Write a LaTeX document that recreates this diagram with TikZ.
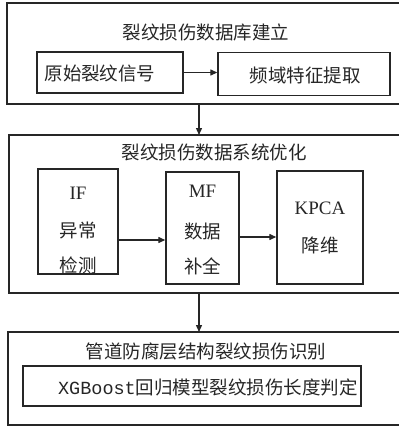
\documentclass[tikz,border=0pt]{standalone}
\usepackage{fontspec}
\setmainfont{Liberation Serif}
\newfontfamily\cjk{Noto Sans CJK SC}
\newfontfamily\lmono{Liberation Mono}
\usetikzlibrary{arrows.meta}
\begin{document}
\begin{tikzpicture}[x=1pt,y=-1pt,
  box/.style={draw=black!85,line width=1.4pt},
  lbl/.style={font=\cjk\fontsize{18.5}{22}\selectfont,inner sep=0pt,text=black!85},
  lat/.style={font=\fontsize{19}{22}\selectfont,inner sep=0pt,text=black!85},
  arr/.style={draw=black!85,line width=1.3pt,-{Triangle[length=7pt,width=6pt]}}]
\useasboundingbox (0,0) rectangle (399,426);
% stage 1
\draw[box] (7,3) rectangle (404,104);
\coordinate (o1b) at (199,104);
\node[lbl] (t1) at (206,32) {裂纹损伤数据库建立};
\node[box,minimum width=146pt,minimum height=41pt,inner sep=0pt] (a) at (110,72.5) {};
\node[lbl] (at) at (100,73) {原始裂纹信号};
\node[box,minimum width=172pt,minimum height=43pt,inner sep=0pt] (b) at (304,74) {};
\node[lbl] (bt) at (305,75) {频域特征提取};
\draw[arr] (a.east) -- (b.west |- a.east);
% stage 2
\draw[box] (9,135) rectangle (404,293);
\coordinate (o2t) at (199,135);
\coordinate (o2b) at (199,293);
\draw[arr] (o1b) -- (o2t);
\node[lbl] (t2) at (214,152) {裂纹损伤数据系统优化};
\node[box,minimum width=80pt,minimum height=105pt,inner sep=0pt] (c) at (78,221.5) {};
\node[box,minimum width=73pt,minimum height=112pt,inner sep=0pt] (d) at (202.5,228) {};
\node[box,minimum width=86pt,minimum height=113pt,inner sep=0pt] (e) at (320,227.5) {};
\node[lat] (c1) at (78,193) {IF};
\node[lbl] (c2) at (78,230) {异常};
\node[lbl] (c3) at (78,265) {检测};
\node[lat] (d1) at (202.5,191) {MF};
\node[lbl] (d2) at (202.5,231) {数据};
\node[lbl] (d3) at (202.5,266) {补全};
\node[lat] (e1) at (320,208) {KPCA};
\node[lbl] (e2) at (320,245) {降维};
\coordinate (cd) at (118,240);
\draw[arr] (cd) -- (cd -| d.west);
\coordinate (de) at (239,237);
\draw[arr] (de) -- (de -| e.west);
% stage 3
\draw[box] (8,332) rectangle (404,425);
\coordinate (o3t) at (199,332);
\draw[arr] (o2b) -- (o3t);
\node[lbl] (t3) at (206,352) {管道防腐层结构裂纹损伤识别};
\node[box,minimum width=338pt,minimum height=40pt,inner sep=0pt] (f) at (192,386) {};
\node[lbl] (ft) at (208,387) {{\lmono XGBoost}回归模型裂纹损伤长度判定};
\end{tikzpicture}
\end{document}
